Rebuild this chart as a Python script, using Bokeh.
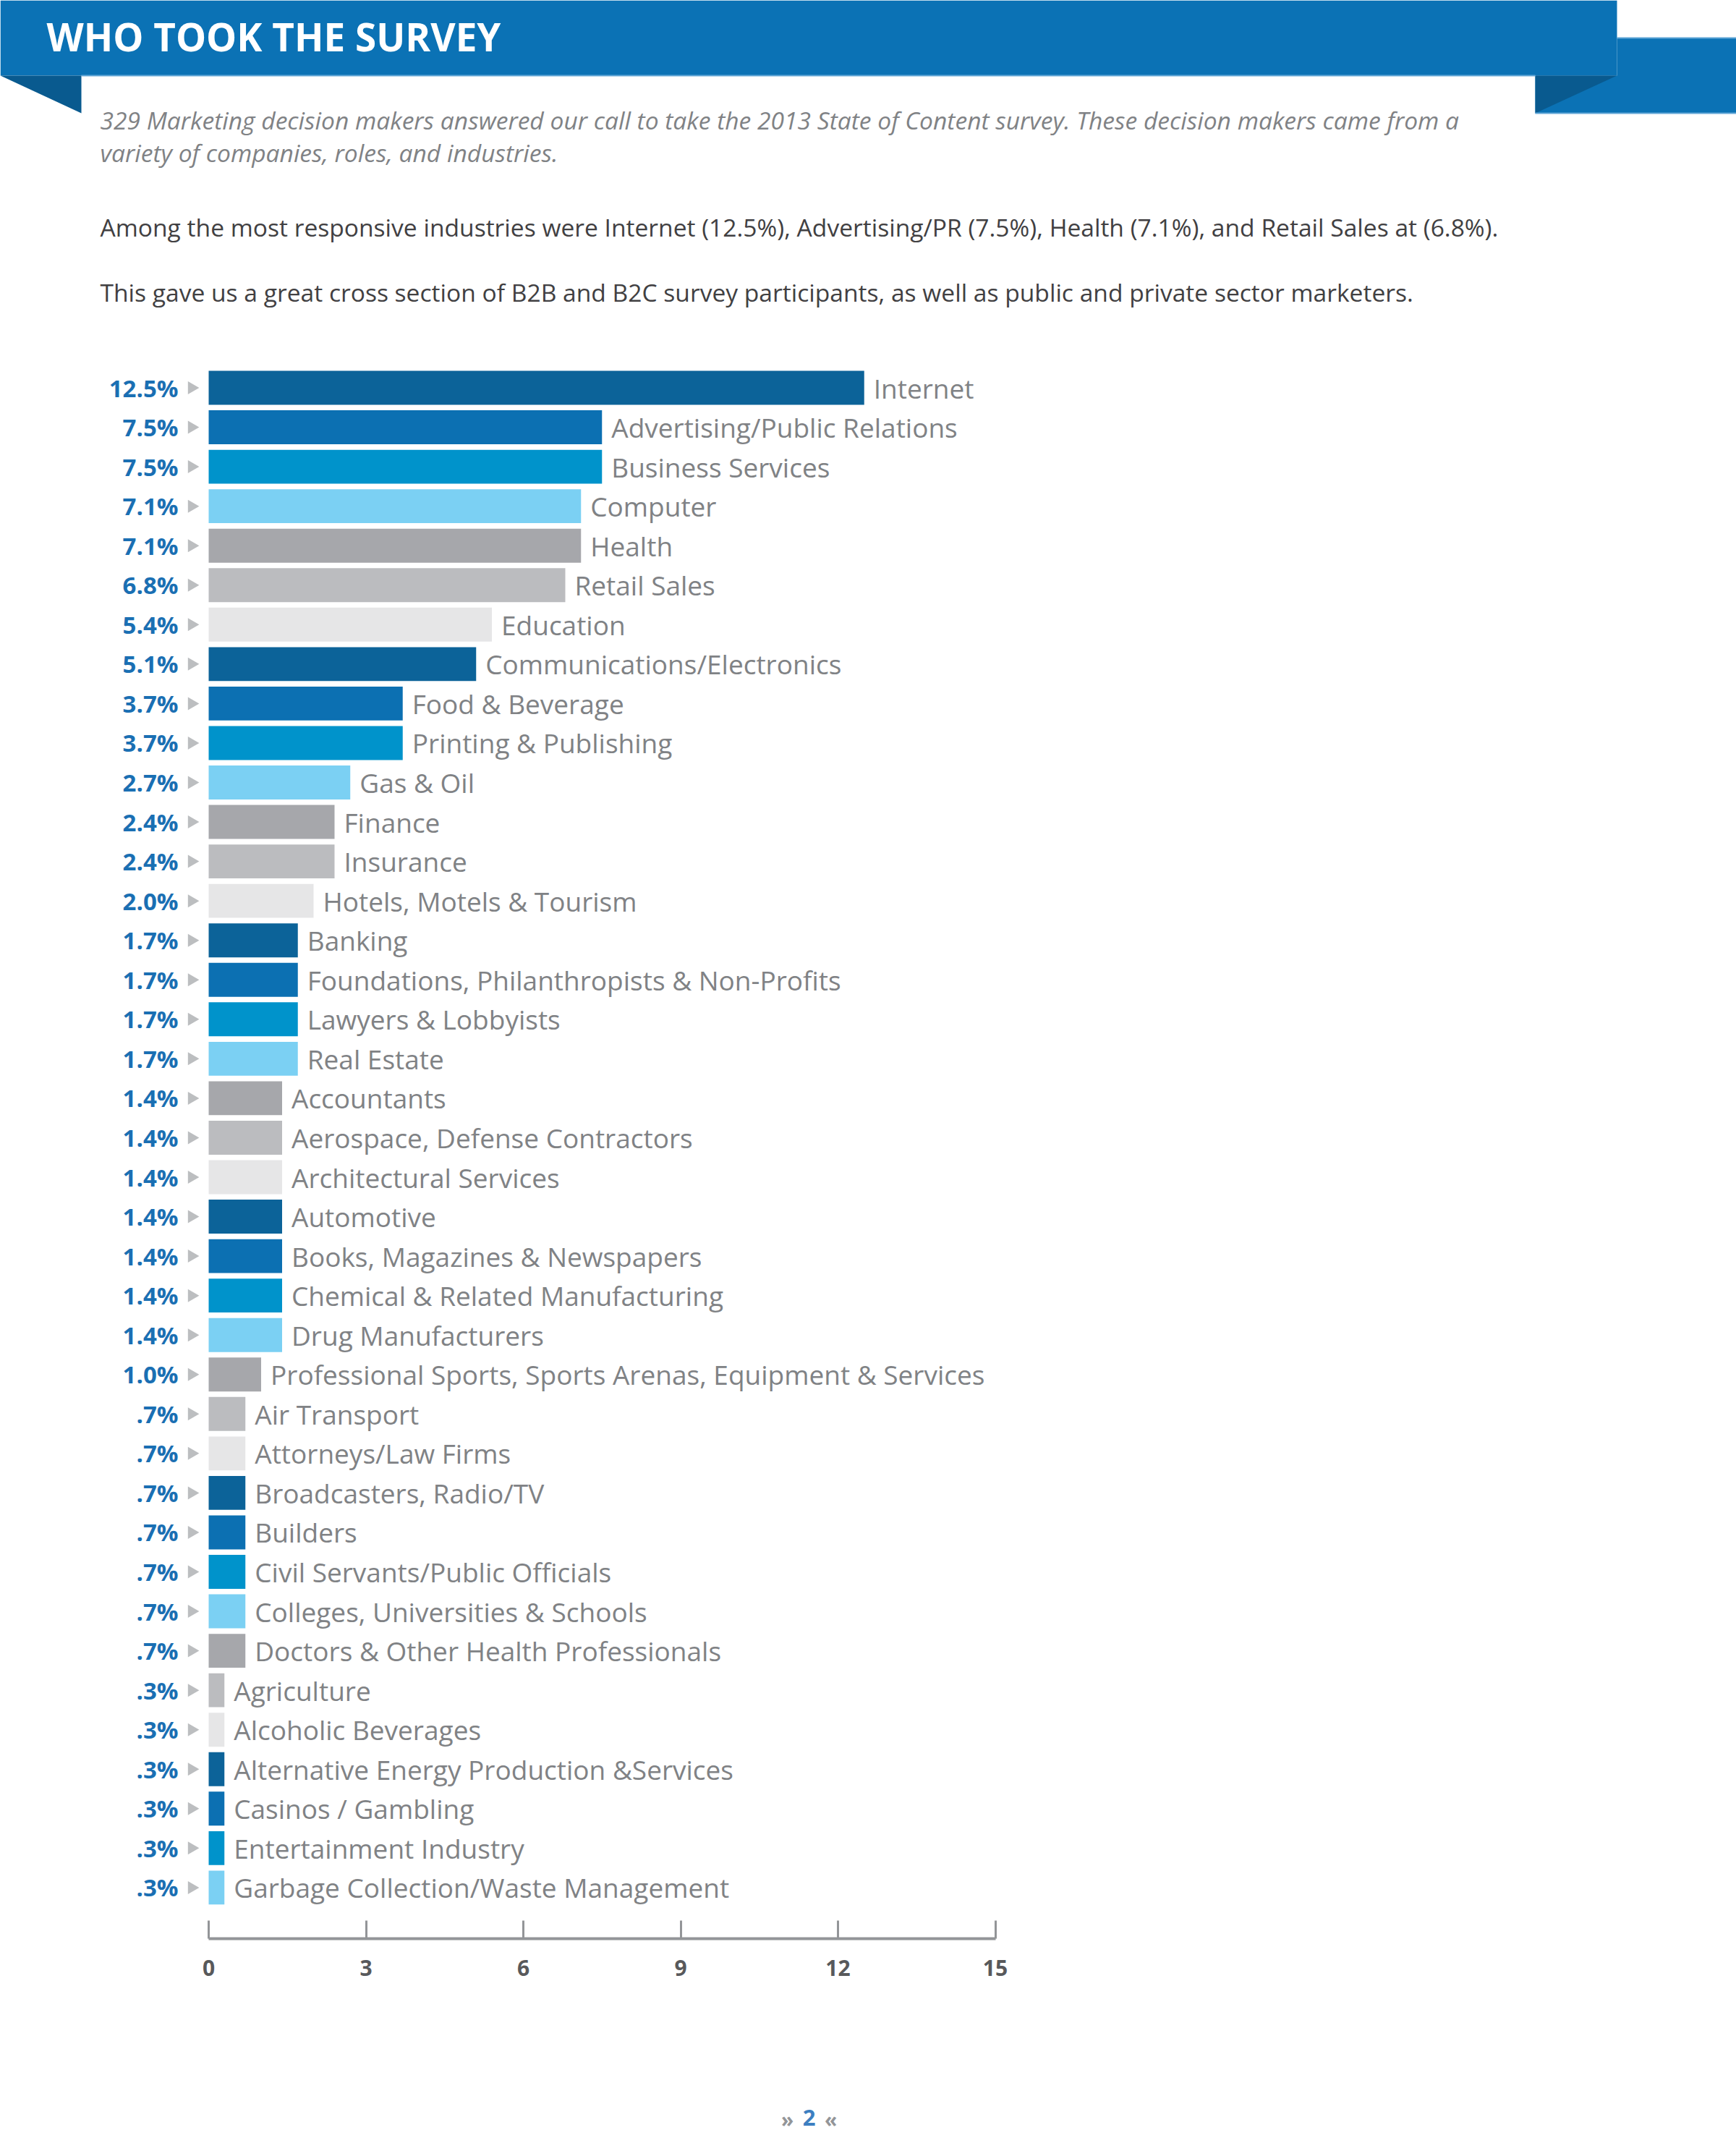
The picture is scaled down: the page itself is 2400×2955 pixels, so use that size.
import math
from bokeh.plotting import figure
from bokeh.layouts import column
from bokeh.models import Range1d, ColumnDataSource, FixedTicker, LinearAxis
from bokeh.core.properties import value
from bokeh.embed import file_html
from bokeh.resources import INLINE

# ---------------- data ----------------
categories = [
    "Internet", "Advertising/Public Relations", "Business Services", "Computer", "Health",
    "Retail Sales", "Education", "Communications/Electronics", "Food & Beverage",
    "Printing & Publishing", "Gas & Oil", "Finance", "Insurance", "Hotels, Motels & Tourism",
    "Banking", "Foundations, Philanthropists & Non-Profits", "Lawyers & Lobbyists", "Real Estate",
    "Accountants", "Aerospace, Defense Contractors", "Architectural Services", "Automotive",
    "Books, Magazines & Newspapers", "Chemical & Related Manufacturing", "Drug Manufacturers",
    "Professional Sports, Sports Arenas, Equipment & Services", "Air Transport",
    "Attorneys/Law Firms", "Broadcasters, Radio/TV", "Builders", "Civil Servants/Public Officials",
    "Colleges, Universities & Schools", "Doctors & Other Health Professionals", "Agriculture",
    "Alcoholic Beverages", "Alternative Energy Production &Services", "Casinos / Gambling",
    "Entertainment Industry", "Garbage Collection/Waste Management",
]
shares = [12.5, 7.5, 7.5, 7.1, 7.1, 6.8, 5.4, 5.1, 3.7, 3.7, 2.7, 2.4, 2.4, 2.0,
          1.7, 1.7, 1.7, 1.7, 1.4, 1.4, 1.4, 1.4, 1.4, 1.4, 1.4, 1.0,
          0.7, 0.7, 0.7, 0.7, 0.7, 0.7, 0.7, 0.3, 0.3, 0.3, 0.3, 0.3, 0.3]
share_labels = ["12.5%", "7.5%", "7.5%", "7.1%", "7.1%", "6.8%", "5.4%", "5.1%", "3.7%",
                "3.7%", "2.7%", "2.4%", "2.4%", "2.0%", "1.7%", "1.7%", "1.7%", "1.7%",
                "1.4%", "1.4%", "1.4%", "1.4%", "1.4%", "1.4%", "1.4%", "1.0%",
                ".7%", ".7%", ".7%", ".7%", ".7%", ".7%", ".7%",
                ".3%", ".3%", ".3%", ".3%", ".3%", ".3%"]
x_ticks = [0, 3, 6, 9, 12, 15]
palette = ["#0c6399", "#0c70b2", "#0093cb", "#7bd0f3", "#a6a7ab", "#bbbcbf", "#e6e6e7"]

title_text = "WHO TOOK THE SURVEY"
intro_lines = [
    "329 Marketing decision makers answered our call to take the 2013 State of Content survey. These decision makers came from a",
    "variety of companies, roles, and industries.",
]
para2 = "Among the most responsive industries were Internet (12.5%), Advertising/PR (7.5%), Health (7.1%), and Retail Sales at (6.8%)."
para3 = "This gave us a great cross section of B2B and B2C survey participants, as well as public and private sector marketers."
page_number = "2"

FONT = value("Open Sans")

# ---------------- page geometry (page pixels) ----------------
W = 2400
HEADER_H = 470
CHART_H = 2310
FOOTER_H = 175
PAGE_L, PAGE_R = 0, W


def pixel_fig(top, height):
    f = figure(width=W, height=height, x_range=Range1d(PAGE_L, PAGE_R),
               y_range=Range1d(top + height, top), output_backend="svg",
               toolbar_location=None, x_axis_location=None, y_axis_location=None,
               min_border=0, outline_line_color=None, background_fill_color="white",
               border_fill_color="white")
    f.grid.visible = False
    return f


# ---------------- header ----------------
hdr = pixel_fig(0, HEADER_H)
BLUE = "#0b72b5"
DARK = "#095a8f"
hdr.quad(left=0, right=2235, top=0, bottom=104, fill_color=BLUE, line_color=None)
hdr.patch(x=[2235, 2400, 2400, 2122, 2122, 2235], y=[52, 52, 156, 156, 104, 104],
          fill_color=BLUE, line_color=None)
hdr.patch(x=[2122, 2235, 2122], y=[104, 104, 156], fill_color=DARK, line_color=None)
hdr.patch(x=[0, 112, 112], y=[104, 104, 156], fill_color=DARK, line_color=None)
hdr.line(x=[112, 2122], y=[104, 104], line_color="#5fa5d6", line_width=2)
hdr.line(x=[2235, 2400], y=[52, 52], line_color="#5fa5d6", line_width=2)
hdr.line(x=[2122, 2400], y=[156, 156], line_color="#5fa5d6", line_width=2)

hdr.text(x=[64], y=[50], text=[title_text], text_font=FONT, text_font_style="bold",
         text_font_size="53px", text_color="white", text_baseline="middle")
hdr.text(x=[138, 138], y=[165, 210], text=intro_lines, text_font=FONT,
         text_font_style="italic", text_font_size="33.6px", text_color="#808285",
         text_baseline="middle")
hdr.text(x=[138, 138], y=[313, 403], text=[para2, para3], text_font=FONT,
         text_font_size="33.6px", text_color="#414042", text_baseline="middle")

# ---------------- chart ----------------
PX = 72.5              # pixels per percentage point
ZERO_PX = 288          # page x of value 0
FRAME_L = PAGE_L
FRAME_R = PAGE_R
ROW_PITCH = 54.55
FIRST_ROW = 535.5      # page y of first row centre
FRAME_T = HEADER_H
BORDER_B = 101
FRAME_B = FRAME_T + CHART_H - BORDER_B

x_start = -(ZERO_PX - FRAME_L) / PX
x_end = (FRAME_R - ZERO_PX) / PX
y_top = (FRAME_T - FIRST_ROW) / ROW_PITCH
y_bot = (FRAME_B - FIRST_ROW) / ROW_PITCH

src = ColumnDataSource(dict(
    y=list(range(len(categories))),
    share=shares,
    cat=categories,
    plabel=share_labels,
    color=[palette[i % len(palette)] for i in range(len(categories))],
))

chart = figure(width=W, height=CHART_H, x_range=Range1d(x_start, x_end),
               y_range=Range1d(y_bot, y_top), output_backend="svg", toolbar_location=None,
               x_axis_location=None, y_axis_location=None, min_border_left=0,
               min_border_right=0, min_border_top=0, min_border_bottom=BORDER_B,
               outline_line_color=None)
chart.grid.visible = False

chart.hbar(y="y", left=0, right="share", height=0.86, fill_color="color",
           line_color=None, source=src)
chart.scatter(x=-23.5 / PX, y="y", marker="triangle", size=18, angle=-math.pi / 2,
              fill_color="#bcbec0", line_color=None, source=src)
chart.text(x=0, y="y", text="plabel", x_offset=-42, text_align="right",
           text_baseline="middle", text_font=FONT, text_font_style="bold",
           text_font_size="33px", text_color="#1a6fb3", source=src)
chart.text(x="share", y="y", text="cat", x_offset=13, text_align="left",
           text_baseline="middle", text_font=FONT, text_font_size="37px",
           text_color="#808285", source=src)

ax = LinearAxis(ticker=FixedTicker(ticks=x_ticks), bounds=(0, 15))
ax.axis_line_width = 4
ax.axis_line_color = "#939598"
ax.major_tick_in = 25
ax.major_tick_out = 0
ax.major_tick_line_width = 3
ax.major_tick_line_color = "#939598"
ax.minor_tick_line_color = None
ax.major_label_standoff = 29
ax.major_label_text_font = "Open Sans"
ax.major_label_text_font_style = "bold"
ax.major_label_text_font_size = "30px"
ax.major_label_text_color = "#58595b"
chart.add_layout(ax, "below")

# ---------------- footer ----------------
ftr_top = HEADER_H + CHART_H
ftr = pixel_fig(ftr_top, FOOTER_H)
ftr.text(x=[1088, 1118, 1148], y=[2928, 2926, 2928], text=["\u00bb", page_number, "\u00ab"],
         text_font=FONT, text_font_style="bold", text_font_size=["28px", "31px", "28px"],
         text_color=["#939598", "#3d7fc1", "#939598"], text_align="center",
         text_baseline="middle")

layout = column(hdr, chart, ftr, spacing=0)
open("out.html", "w").write(file_html(layout, INLINE))
